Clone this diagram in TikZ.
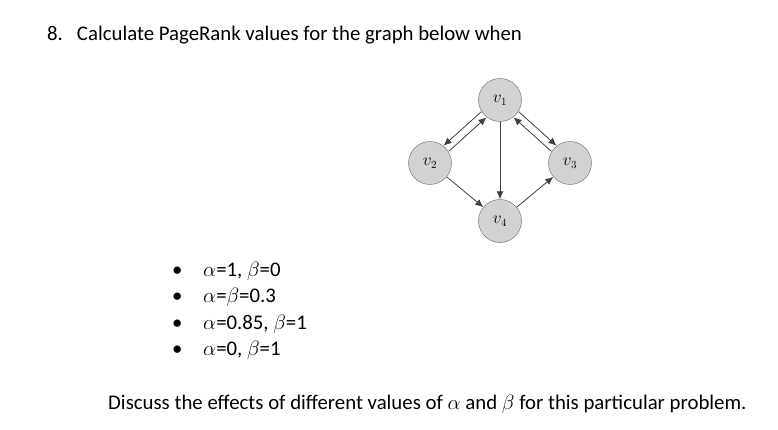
\documentclass[tikz,border=0pt]{standalone}
\usepackage{fontspec}
\setmainfont{Carlito}
\usetikzlibrary{arrows.meta}
\begin{document}
\begin{tikzpicture}[x=1pt,y=-1pt,
  vtx/.style={circle,draw=gray!80!black,fill=gray!35,minimum size=43pt,inner sep=0pt,font=\fontsize{16}{17}\selectfont},
  edge/.style={draw=black!75,line width=0.8pt,-{Latex[length=8pt,width=7pt]}},
  txt/.style={anchor=base west,inner sep=0pt,font=\fontsize{20.8}{22}\selectfont}]
\useasboundingbox (0,0) rectangle (778,430);
\node[txt] (title) at (47,41) {8.\hspace{14pt}Calculate PageRank values for the graph below when};
\node[vtx] (v1) at (500,100) {$v_1$};
\node[vtx] (v2) at (430,163) {$v_2$};
\node[vtx] (v3) at (570,163) {$v_3$};
\node[vtx] (v4) at (500,221) {$v_4$};
\draw[edge,transform canvas={shift={(-2.6pt,2.8pt)}}] (v1) -- (v2);
\draw[edge,transform canvas={shift={(2.6pt,-2.8pt)}}] (v2) -- (v1);
\draw[edge,transform canvas={shift={(2.6pt,2.8pt)}}] (v1) -- (v3);
\draw[edge,transform canvas={shift={(-2.6pt,-2.8pt)}}] (v3) -- (v1);
\draw[edge] (v1) -- (v4);
\draw[edge] (v2) -- (v4);
\draw[edge] (v4) -- (v3);
\foreach \i/\y/\t in {1/276/{$\alpha$=1, $\beta$=0},2/302/{$\alpha$=$\beta$=0.3},3/329/{$\alpha$=0.85, $\beta$=1},4/355/{$\alpha$=0, $\beta$=1}}{
  \node[txt] (b\i) at (172,\y) {\textbullet};
  \node[txt] (l\i) at (203,\y) {\t};
}
\node[txt] (disc) at (108,409) {Discuss the effects of different values of $\alpha$ and $\beta$ for this particular problem.};
\end{tikzpicture}
\end{document}
